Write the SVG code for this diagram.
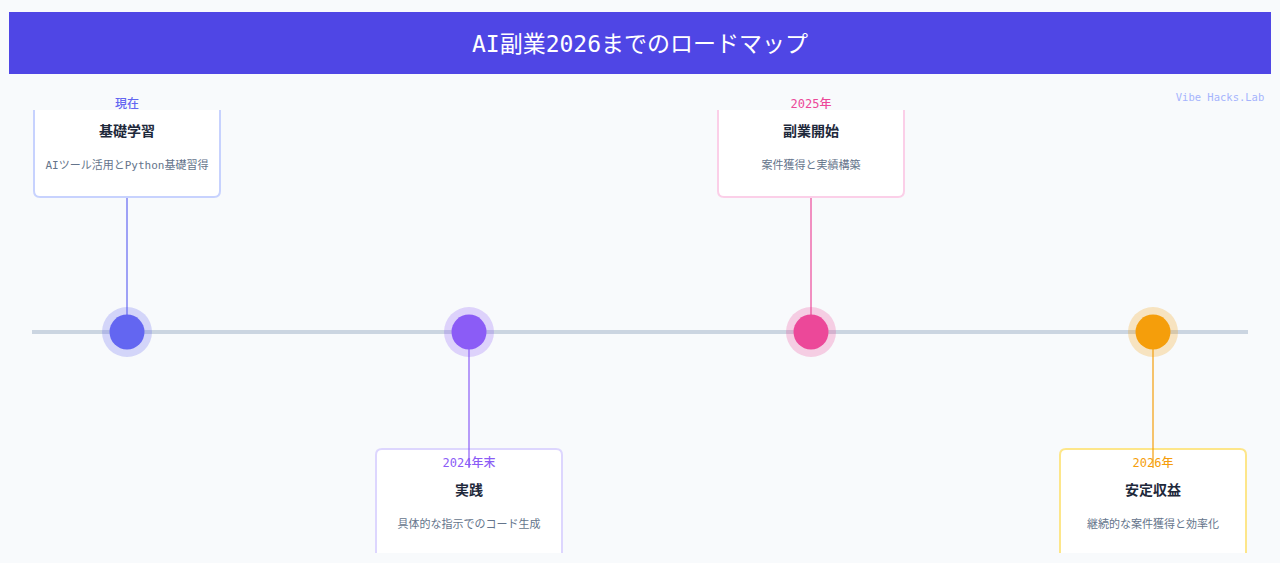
<svg xmlns="http://www.w3.org/2000/svg" width="1280" height="563" viewBox="0 0 1280 563">
<style>
text{font-family:"DejaVu Sans Mono","Noto Sans CJK JP",monospace;text-anchor:middle}
.card{fill:#ffffff;stroke-width:2}
.lbl{font-size:12px;font-weight:500}
.ttl{font-size:14px;font-weight:700;fill:#1e293b}
.dsc{font-size:11px;fill:#64748b}
.conn{stroke-width:2;stroke-opacity:0.6;fill:none}
</style>
<rect x="0" y="0" width="1280" height="563" fill="#f8fafc"/>
<g id="header">
<rect x="9" y="12" width="1262" height="62" fill="#4f46e5"/>
<text x="640" y="52" font-size="23" fill="#ffffff">AI副業2026までのロードマップ</text>
</g>
<text x="1220" y="101" font-size="10.5" fill="#a5b4fc">Vibe Hacks.Lab</text>
<g id="timeline">
<line x1="32" y1="332" x2="1248" y2="332" stroke="#cbd5e1" stroke-width="4"/>
</g>
<g id="node1">
<path class="card" d="M34 110 V191 Q34 197 40 197 H214 Q220 197 220 191 V110" stroke="#c7d2fe"/>
<text class="lbl" x="127" y="108" fill="#6366f1">現在</text>
<text class="ttl" x="127" y="136">基礎学習</text>
<text class="dsc" x="127" y="169">AIツール活用とPython基礎習得</text>
</g>
<g id="node3">
<path class="card" d="M718 110 V191 Q718 197 724 197 H898 Q904 197 904 191 V110" stroke="#fbcfe8"/>
<text class="lbl" x="811" y="108" fill="#ec4899">2025年</text>
<text class="ttl" x="811" y="136">副業開始</text>
<text class="dsc" x="811" y="169">案件獲得と実績構築</text>
</g>
<g id="node2">
<path class="card" d="M376 553 V455 Q376 449 382 449 H556 Q562 449 562 455 V553" stroke="#ddd6fe"/>
<text class="lbl" x="469" y="467" fill="#8b5cf6">2024年末</text>
<text class="ttl" x="469" y="495">実践</text>
<text class="dsc" x="469" y="528">具体的な指示でのコード生成</text>
</g>
<g id="node4">
<path class="card" d="M1060 553 V455 Q1060 449 1066 449 H1240 Q1246 449 1246 455 V553" stroke="#fde68a"/>
<text class="lbl" x="1153" y="467" fill="#f59e0b">2026年</text>
<text class="ttl" x="1153" y="495">安定収益</text>
<text class="dsc" x="1153" y="528">継続的な案件獲得と効率化</text>
</g>
<g id="connectors">
<line class="conn" x1="127" y1="198" x2="127" y2="332" stroke="#6366f1"/>
<line class="conn" x1="469" y1="332" x2="469" y2="468" stroke="#8b5cf6"/>
<line class="conn" x1="811" y1="198" x2="811" y2="332" stroke="#ec4899"/>
<line class="conn" x1="1153" y1="332" x2="1153" y2="468" stroke="#f59e0b"/>
</g>
<g id="marker1">
<circle cx="127" cy="332" r="25" fill="#6366f1" fill-opacity="0.25"/>
<circle cx="127" cy="332" r="17.5" fill="#6366f1"/>
</g>
<g id="marker2">
<circle cx="469" cy="332" r="25" fill="#8b5cf6" fill-opacity="0.25"/>
<circle cx="469" cy="332" r="17.5" fill="#8b5cf6"/>
</g>
<g id="marker3">
<circle cx="811" cy="332" r="25" fill="#ec4899" fill-opacity="0.25"/>
<circle cx="811" cy="332" r="17.5" fill="#ec4899"/>
</g>
<g id="marker4">
<circle cx="1153" cy="332" r="25" fill="#f59e0b" fill-opacity="0.25"/>
<circle cx="1153" cy="332" r="17.5" fill="#f59e0b"/>
</g>
</svg>
